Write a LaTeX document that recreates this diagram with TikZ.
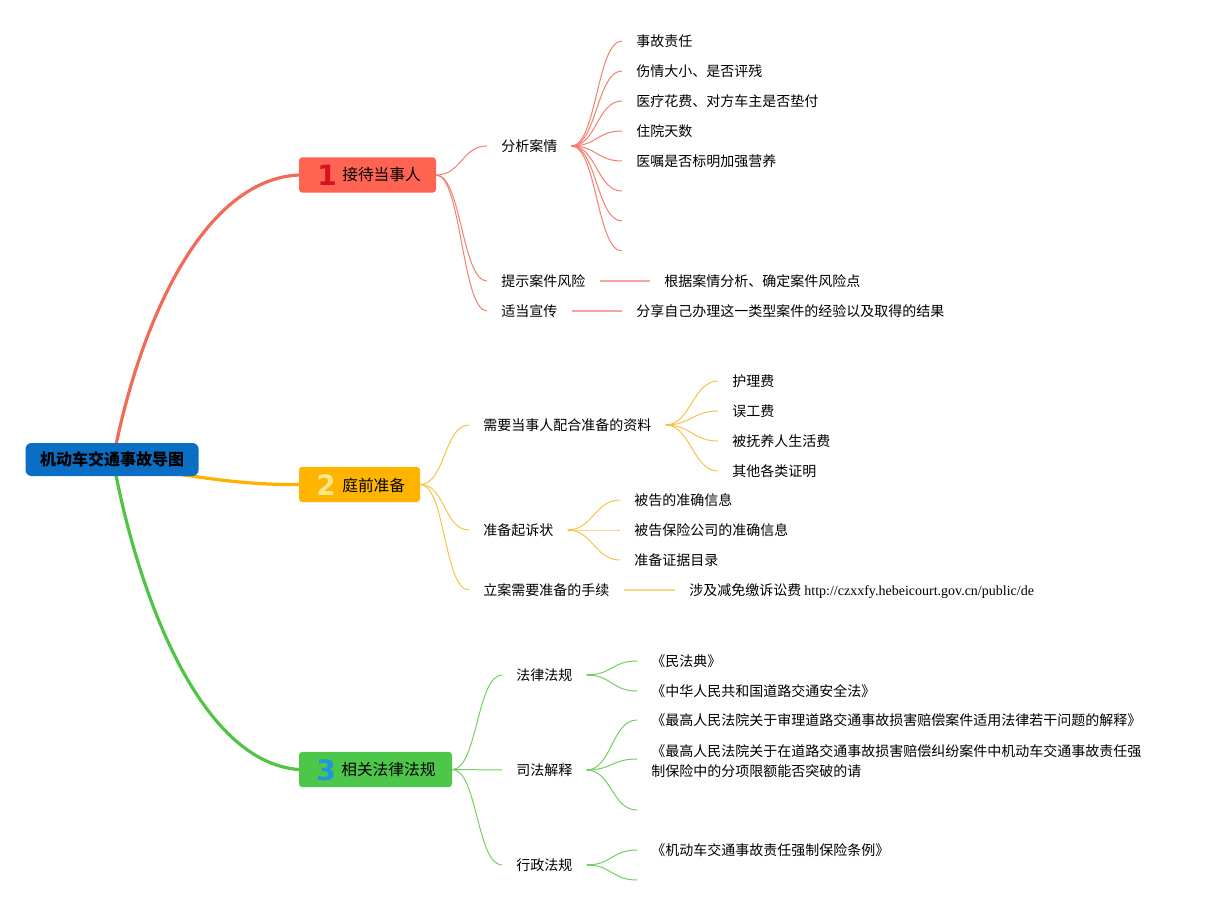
\documentclass[tikz,border=0pt]{standalone}
\usepackage{fontspec}
\setmainfont{Noto Sans CJK SC}
\newfontfamily\numfont{DejaVu Sans}
\newfontfamily\urlfont{Liberation Serif}
\definecolor{rootblue}{HTML}{0A6EC5}
\definecolor{cA}{HTML}{FF6352}
\definecolor{cAn}{HTML}{D5121E}
\definecolor{cAl}{HTML}{F2806F}
\definecolor{cAm}{HTML}{F26B58}
\definecolor{cB}{HTML}{FFB400}
\definecolor{cBn}{HTML}{FFE58A}
\definecolor{cBl}{HTML}{F8C34C}
\definecolor{cBm}{HTML}{FFB000}
\definecolor{cC}{HTML}{4DC74A}
\definecolor{cCn}{HTML}{1E95E0}
\definecolor{cCl}{HTML}{74CF64}
\definecolor{cCm}{HTML}{52C445}
\tikzset{
  txt/.style={anchor=west, inner xsep=10.5pt, inner ysep=0pt,
    font=\fontsize{10.5}{15}\selectfont, text height=8.6pt, text depth=0.8pt},
  txtml/.style={anchor=west, inner xsep=10.5pt, inner ysep=0pt, align=left,
    font=\fontsize{10.5}{15}\selectfont},
  sc/.style={to path={.. controls +(25,0) and +(-25,0) .. (\tikztotarget)}},
  rootbox/.style={fill=rootblue, rounded corners=4.5pt, minimum width=129.75pt,
    minimum height=24.75pt, inner sep=0pt, font=\fontsize{12}{14}\selectfont\bfseries},
  bbox/.style={rounded corners=2.5pt, minimum height=26.5pt, inner sep=0pt},
  bnum/.style={inner sep=0pt, font=\fontsize{21}{21}\numfont\bfseries},
  btxt/.style={anchor=west, inner sep=0pt, font=\fontsize{11.8}{14}\selectfont},
  mainline/.style={line width=2.4pt, line cap=round},
  lA/.style={draw=cAl, line width=0.75pt},
  lB/.style={draw=cBl, line width=0.75pt},
  lC/.style={draw=cCl, line width=0.75pt},
  sA/.style={draw=cAl!70, line width=1.3pt},
  sB/.style={draw=cBl!70, line width=1.3pt},
  dotA/.style={draw=cAl, line width=2pt},
  dotB/.style={draw=cBl, line width=2pt},
  dotC/.style={draw=cCl, line width=2pt},
}
\begin{document}
\begin{tikzpicture}[x=0.75pt, y=-0.75pt]
\useasboundingbox (0,0) rectangle (1213,905);
\fill[white] (0,0) rectangle (1213,905);

% branch boxes (placed first so that names exist)
\node[bbox, fill=cA, minimum width=102.75pt] (b1) at (367.5,175) {};
\node[bbox, fill=cB, minimum width=90.75pt] (b2) at (359.5,484.5) {};
\node[bbox, fill=cC, minimum width=114.75pt] (b3) at (375.5,769.5) {};

% main thick connectors
\coordinate (rtop) at (115,450);
\coordinate (rright) at (165,472);
\coordinate (rbot) at (115,470);
\draw[mainline, cAm] (rtop) .. controls (139,330) and (200,180) .. (b1.west);
\draw[mainline, cBm] (rright) .. controls (210,479) and (250,485) .. (b2.west);
\draw[mainline, cCm] (rbot) .. controls (139,595) and (200,762) .. (b3.west);

% root
\node[rootbox] (root) at (112,459.5) {机动车交通事故导图};

% box labels
\node[bnum, text=cAn] (b1n) at (327,175) {1};
\node[btxt] (b1t) at (342,175) {接待当事人};
\node[bnum, text=cBn] (b2n) at (326,485) {2};
\node[btxt] (b2t) at (342,485) {庭前准备};
\node[bnum, text=cCn] (b3n) at (326,770) {3};
\node[btxt] (b3t) at (341,770) {相关法律法规};

% ---------- branch 1 ----------
\node[txt] (a1) at (487,146) {分析案情};
\node[txt] (a2) at (487,281) {提示案件风险};
\node[txt] (a3) at (487,311) {适当宣传};
\draw[lA] (b1.east) to[sc] (a1.west);
\draw[lA] (b1.east) to[sc] (a2.west);
\draw[lA] (b1.east) to[sc] (a3.west);

\node[txt] (a11) at (622,41) {事故责任};
\node[txt] (a12) at (622,71) {伤情大小、是否评残};
\node[txt] (a13) at (622,101) {医疗花费、对方车主是否垫付};
\node[txt] (a14) at (622,131) {住院天数};
\node[txt] (a15) at (622,161) {医嘱是否标明加强营养};
\coordinate (a16) at (622,191);
\coordinate (a17) at (622,221);
\coordinate (a18) at (622,251);
\foreach \t in {a11,a12,a13,a14,a15} \draw[lA] (a1.east) to[sc] (\t.west);
\foreach \t in {a16,a17,a18} \draw[lA] (a1.east) to[sc] (\t);
\draw[dotA] (a1.east) -- ++(5,0);

\node[txt] (a21) at (650,281) {根据案情分析、确定案件风险点};
\draw[sA] (a2.east) -- (a21.west);
\node[txt] (a31) at (622,311) {分享自己办理这一类型案件的经验以及取得的结果};
\draw[sA] (a3.east) -- (a31.west);

% ---------- branch 2 ----------
\node[txt] (p1) at (469,425) {需要当事人配合准备的资料};
\node[txt] (p2) at (469,530) {准备起诉状};
\node[txt] (p3) at (469,590) {立案需要准备的手续};
\draw[lB] (b2.east) to[sc] (p1.west);
\draw[lB] (b2.east) to[sc] (p2.west);
\draw[lB] (b2.east) to[sc] (p3.west);

\node[txt] (p11) at (718,381) {护理费};
\node[txt] (p12) at (718,411) {误工费};
\node[txt] (p13) at (718,441) {被抚养人生活费};
\node[txt] (p14) at (718,471) {其他各类证明};
\foreach \t in {p11,p12,p13,p14} \draw[lB] (p1.east) to[sc] (\t.west);
\draw[dotB] (p1.east) -- ++(5,0);

\node[txt] (p21) at (620,500) {被告的准确信息};
\node[txt] (p22) at (620,530) {被告保险公司的准确信息};
\node[txt] (p23) at (620,560) {准备证据目录};
\foreach \t in {p21,p22,p23} \draw[lB] (p2.east) to[sc] (\t.west);
\draw[dotB] (p2.east) -- ++(5,0);

\node[txt] (p31) at (675,590) {涉及减免缴诉讼费 {\urlfont\fontsize{10.5}{15}\selectfont http://czxxfy.hebeicourt.gov.cn/public/de}};
\draw[sB] (p3.east) -- (p31.west);

% ---------- branch 3 ----------
\node[txt] (q1) at (502,675) {法律法规};
\node[txt] (q2) at (502,770) {司法解释};
\node[txt] (q3) at (502,865) {行政法规};
\draw[lC] (b3.east) to[sc] (q1.west);
\draw[lC] (b3.east) to[sc] (q2.west);
\draw[lC] (b3.east) to[sc] (q3.west);

\node[txt] (q11) at (637,661) {《民法典》};
\node[txt] (q12) at (637,691) {《中华人民共和国道路交通安全法》};
\foreach \t in {q11,q12} \draw[lC] (q1.east) to[sc] (\t.west);
\draw[dotC] (q1.east) -- ++(5,0);

\node[txt] (q21) at (637,720) {《最高人民法院关于审理道路交通事故损害赔偿案件适用法律若干问题的解释》};
\node[txtml] (q22) at (637,761) {《最高人民法院关于在道路交通事故损害赔偿纠纷案件中机动车交通事故责任强\\制保险中的分项限额能否突破的请};
\coordinate (q23) at (637,810);
\draw[lC] (q2.east) to[sc] (q21.west);
\draw[lC] (q2.east) to[sc] ([yshift=1.5pt]q22.west);
\draw[lC] (q2.east) to[sc] (q23);
\draw[dotC] (q2.east) -- ++(5,0);

\node[txt] (q31) at (637,850) {《机动车交通事故责任强制保险条例》};
\coordinate (q32) at (637,880);
\draw[lC] (q3.east) to[sc] (q31.west);
\draw[lC] (q3.east) to[sc] (q32);
\draw[dotC] (q3.east) -- ++(5,0);
\end{tikzpicture}
\end{document}
